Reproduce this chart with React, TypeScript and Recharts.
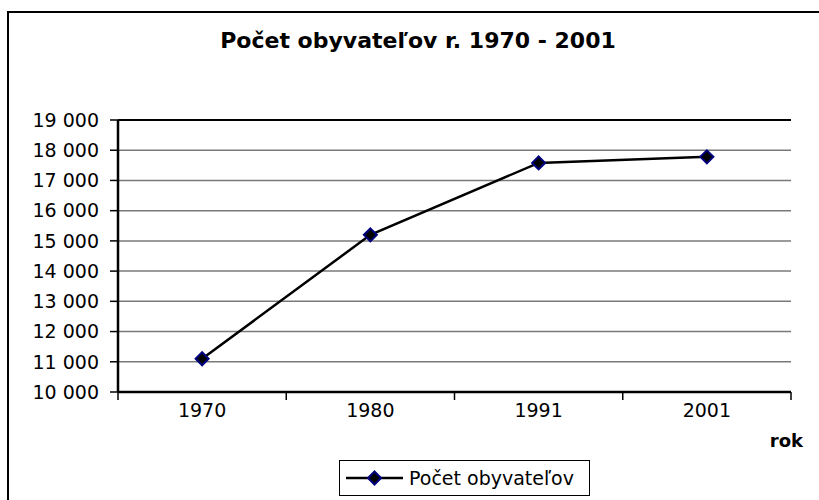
import React from 'react';
import {
    LineChart,
    Line,
    XAxis,
    YAxis,
    CartesianGrid,
    Legend,
    ReferenceLine,
} from 'recharts';

const years = ['1970', '1980', '1991', '2001'];
const population = [11100, 15200, 17580, 17780];
const yTicks = [10000, 11000, 12000, 13000, 14000, 15000, 16000, 17000, 18000, 19000];

const seriesName = 'Počet obyvateľov';
const title = 'Počet obyvateľov r. 1970 - 2001';

const data = years.map((year, i) => ({ year, value: population[i] }));

const FONT = '"DejaVu Sans", sans-serif';
const X_TICK_SIZE = 8;
const X_TICK_MARGIN = 4;

// thousands with a space, e.g. 19 000
const fmt = (v: number) => String(v).replace(/\B(?=(\d{3})+(?!\d))/g, ' ');

function Diamond(props: any) {
    const { cx, cy } = props;
    if (cx == null || cy == null) return null;
    const r = 6.5;
    return (
        <polygon
            points={`${cx},${cy - r} ${cx + r},${cy} ${cx},${cy + r} ${cx - r},${cy}`}
            fill="#000000"
            stroke="#000080"
            strokeWidth={2}
        />
    );
}

// category label plus Excel-style tick marks between the categories
function YearTick(props: any) {
    const { x, y, payload, index, visibleTicksCount } = props;
    const half = payload.offset || 0;
    const axisY = y - X_TICK_SIZE - X_TICK_MARGIN;
    const isLast = index === visibleTicksCount - 1;
    return (
        <g>
            <line x1={x - half} y1={axisY} x2={x - half} y2={axisY + X_TICK_SIZE} stroke="#000" strokeWidth={1.5} />
            {isLast && (
                <line x1={x + half} y1={axisY} x2={x + half} y2={axisY + X_TICK_SIZE} stroke="#000" strokeWidth={1.5} />
            )}
            <text x={x} y={y} dy="0.71em" textAnchor="middle" fill="#000" fontSize={19} fontFamily={FONT}>
                {payload.value}
            </text>
        </g>
    );
}

function LegendBox() {
    return (
        <div
            style={{
                boxSizing: 'border-box',
                width: 251,
                height: 36,
                border: '1px solid #000',
                display: 'flex',
                alignItems: 'center',
                paddingLeft: 5,
                fontFamily: FONT,
                fontSize: 19,
                color: '#000',
                background: '#fff',
            }}
        >
            <svg width={60} height={16} style={{ marginRight: 4 }}>
                <line x1={1} y1={8} x2={58} y2={8} stroke="#000" strokeWidth={2.5} />
                <polygon points="29.5,1.5 36,8 29.5,14.5 23,8" fill="#000" stroke="#000080" strokeWidth={2} />
            </svg>
            <span>{seriesName}</span>
        </div>
    );
}

export default function App() {
    return (
        <div
            style={{
                position: 'absolute',
                left: 0,
                top: 0,
                width: 819,
                height: 500,
                overflow: 'hidden',
                background: '#fff',
            }}
        >
            {/* outer chart frame, only left/top edges fall inside the picture */}
            <div
                style={{
                    position: 'absolute',
                    left: 7,
                    top: 11,
                    width: 900,
                    height: 600,
                    border: '2px solid #000',
                }}
            />
            <div
                style={{
                    position: 'absolute',
                    left: 0,
                    top: 28,
                    width: 836,
                    textAlign: 'center',
                    fontFamily: FONT,
                    fontWeight: 'bold',
                    fontSize: 22,
                    color: '#000',
                }}
            >
                {title}
            </div>
            <div style={{ position: 'absolute', left: 0, top: 0 }}>
                <LineChart
                    width={819}
                    height={500}
                    data={data}
                    margin={{ top: 120, right: 28, bottom: 4, left: 0 }}
                >
                    <CartesianGrid vertical={false} stroke="#7a7a7a" strokeWidth={1.5} />
                    <XAxis
                        dataKey="year"
                        scale="band"
                        height={68}
                        tickLine={false}
                        tickSize={X_TICK_SIZE}
                        tickMargin={X_TICK_MARGIN}
                        axisLine={{ stroke: '#000', strokeWidth: 2.5 }}
                        tick={<YearTick />}
                        interval={0}
                        label={{
                            value: 'rok',
                            position: 'insideBottomRight',
                            offset: 0,
                            dx: 12,
                            dy: -13,
                            fill: '#000',
                            fontSize: 18,
                            fontWeight: 'bold',
                            fontFamily: FONT,
                        }}
                    />
                    <YAxis
                        width={118}
                        domain={[10000, 19000]}
                        ticks={yTicks}
                        interval={0}
                        tickFormatter={fmt}
                        tickSize={8}
                        tickMargin={11}
                        axisLine={{ stroke: '#000', strokeWidth: 2.5 }}
                        tickLine={{ stroke: '#000', strokeWidth: 1.5 }}
                        tick={{ fill: '#000', fontSize: 19, fontFamily: FONT }}
                    />
                    <YAxis
                        yAxisId="right"
                        orientation="right"
                        width={0}
                        domain={[10000, 19000]}
                        tick={false}
                        tickLine={false}
                        axisLine={{ stroke: '#000', strokeWidth: 2 }}
                    />
                    <ReferenceLine y={19000} stroke="#000" strokeWidth={2} />
                    <Legend
                        verticalAlign="bottom"
                        content={() => <LegendBox />}
                        wrapperStyle={{ left: 339, bottom: 4, width: 251 }}
                    />
                    <Line
                        type="linear"
                        dataKey="value"
                        name={seriesName}
                        stroke="#000"
                        strokeWidth={2.5}
                        dot={(p: any) => <Diamond key={p.index} {...p} />}
                        activeDot={false}
                        isAnimationActive={false}
                    />
                </LineChart>
            </div>
        </div>
    );
}
